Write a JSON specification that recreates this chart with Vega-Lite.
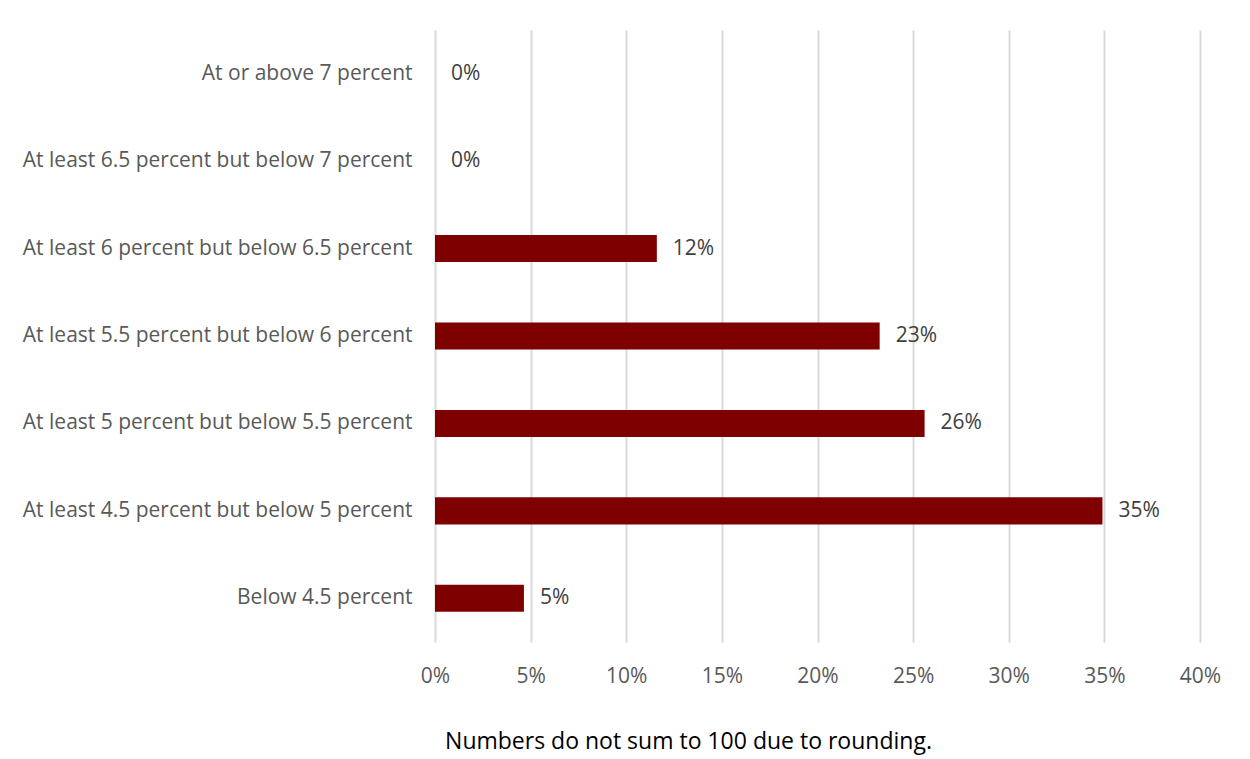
{
  "$schema": "https://vega.github.io/schema/vega-lite/v6.json",
  "width": 765,
  "height": 612,
  "autosize": {"type": "none"},
  "padding": {"left": 435, "top": 30, "right": 50, "bottom": 117},
  "background": "white",
  "data": {
    "values": [
      {"category": "At or above 7 percent", "share": 0, "label": "0%"},
      {"category": "At least 6.5 percent but below 7 percent", "share": 0, "label": "0%"},
      {"category": "At least 6 percent but below 6.5 percent", "share": 11.6, "label": "12%"},
      {"category": "At least 5.5 percent but below 6 percent", "share": 23.25, "label": "23%"},
      {"category": "At least 5 percent but below 5.5 percent", "share": 25.6, "label": "26%"},
      {"category": "At least 4.5 percent but below 5 percent", "share": 34.9, "label": "35%"},
      {"category": "Below 4.5 percent", "share": 4.65, "label": "5%"}
    ]
  },
  "config": {
    "view": {"stroke": null},
    "font": "Open Sans"
  },
  "encoding": {
    "y": {
      "field": "category",
      "type": "nominal",
      "sort": null,
      "scale": {"paddingInner": 0.69, "paddingOuter": 0.345},
      "axis": {
        "title": null,
        "domain": false,
        "ticks": false,
        "labelPadding": 23,
        "labelFontSize": 21,
        "labelColor": "#595959",
        "labelLimit": 0,
        "labelFont": "Open Sans"
      }
    },
    "x": {
      "field": "share",
      "type": "quantitative",
      "scale": {"domain": [0, 40], "nice": false},
      "axis": {
        "values": [0, 5, 10, 15, 20, 25, 30, 35, 40],
        "labelExpr": "datum.value + '%'",
        "grid": true,
        "gridColor": "#d9d9d9",
        "gridWidth": 2,
        "domain": false,
        "ticks": false,
        "labelFlush": false,
        "labelOverlap": false,
        "labelPadding": 34,
        "labelBaseline": "middle",
        "labelFontSize": 21,
        "labelColor": "#595959",
        "labelFont": "Open Sans",
        "title": "Numbers do not sum to 100 due to rounding.",
        "titleFont": "Open Sans",
        "titleFontSize": 23,
        "titleFontWeight": "normal",
        "titleColor": "#000000",
        "titleAnchor": null,
        "titleAlign": "center",
        "titleBaseline": "middle",
        "titleX": 253,
        "titleY": 99
      }
    }
  },
  "layer": [
    {"mark": {"type": "bar", "color": "#7f0000"}},
    {
      "mark": {"type": "text", "align": "left", "baseline": "middle", "dx": 16, "fontSize": 21, "color": "#404040", "font": "Open Sans"},
      "encoding": {"text": {"field": "label"}}
    }
  ]
}
